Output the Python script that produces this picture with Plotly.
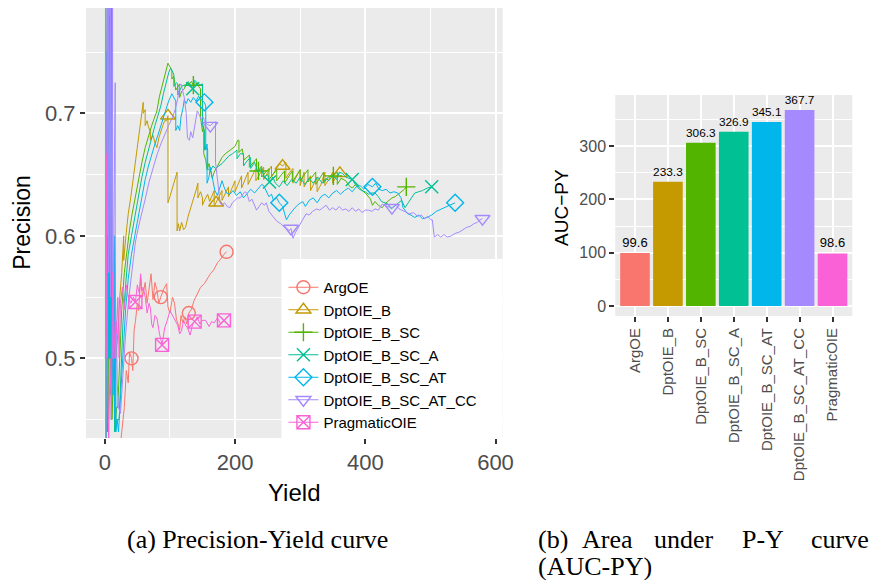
import plotly.graph_objects as go

# ---------------- data: Precision-Yield curves ----------------
argoe_x = [1, 2, 3, 5, 7, 9, 12, 15, 18, 22, 26, 30, 33, 36, 38, 41, 43, 45, 47, 50, 52, 55, 58, 62, 65, 68, 71, 74, 77, 80, 83, 86, 90, 95, 97, 100, 104, 107, 110, 112, 115, 117, 120, 123, 126, 129, 133, 137, 142, 147, 153, 158, 162, 167, 173, 178, 183, 187]
argoe_y = [0.0, 0.5, 0.333, 0.4, 0.35, 0.4, 0.41, 0.42, 0.40, 0.42, 0.44, 0.46, 0.49, 0.48, 0.505, 0.50, 0.49, 0.523, 0.53, 0.545, 0.539, 0.566, 0.55, 0.562, 0.545, 0.557, 0.569, 0.548, 0.562, 0.556, 0.545, 0.55, 0.556, 0.561, 0.542, 0.537, 0.55, 0.545, 0.532, 0.529, 0.523, 0.535, 0.529, 0.534, 0.528, 0.537, 0.540, 0.547, 0.553, 0.558, 0.561, 0.566, 0.569, 0.572, 0.578, 0.581, 0.585, 0.587]
argoe_marks = [41, 86, 129, 187]

b_x = [1, 1, 2, 2, 3, 4, 4, 6, 7, 7, 9, 10, 10, 12, 14, 14, 17, 20, 23, 26, 29, 29, 33, 36, 40, 44, 48, 52, 56, 59, 59, 62, 62, 65, 67, 70, 70, 74, 77, 80, 83, 86, 89, 92, 95, 97, 97, 100, 104, 108, 111, 111, 113, 115, 118, 121, 124, 128, 132, 136, 140, 143, 143, 147, 150, 150, 154, 158, 161, 165, 168, 168, 171, 176, 180, 180, 185, 190, 190, 195, 200, 200, 205, 210, 210, 215, 220, 220, 226, 232, 232, 238, 244, 244, 250, 256, 256, 262, 268, 273, 278, 278, 284, 289, 289, 295, 300, 300, 306, 306, 312, 316, 316, 322, 326, 326, 332, 338, 338, 344, 350, 350, 355, 361]
b_y = [1.0, 0.5, 0.667, 0.5, 0.6, 0.667, 0.5, 0.6, 0.64, 0.54, 0.6, 0.625, 0.5, 0.545, 0.56, 0.47, 0.5, 0.52, 0.55, 0.57, 0.6, 0.58, 0.603, 0.618, 0.632, 0.648, 0.664, 0.68, 0.698, 0.709, 0.7, 0.703, 0.69, 0.694, 0.689, 0.685, 0.678, 0.682, 0.676, 0.672, 0.68, 0.686, 0.69, 0.694, 0.694, 0.698, 0.627, 0.632, 0.64, 0.648, 0.652, 0.604, 0.61, 0.604, 0.611, 0.605, 0.607, 0.616, 0.624, 0.63, 0.637, 0.643, 0.631, 0.636, 0.631, 0.625, 0.63, 0.634, 0.628, 0.634, 0.637, 0.624, 0.627, 0.633, 0.637, 0.629, 0.635, 0.64, 0.632, 0.638, 0.645, 0.636, 0.642, 0.649, 0.639, 0.646, 0.652, 0.642, 0.649, 0.655, 0.645, 0.651, 0.656, 0.646, 0.652, 0.657, 0.648, 0.653, 0.659, 0.657, 0.66, 0.647, 0.652, 0.655, 0.643, 0.649, 0.654, 0.641, 0.652, 0.64, 0.646, 0.649, 0.637, 0.643, 0.648, 0.636, 0.642, 0.652, 0.641, 0.646, 0.652, 0.643, 0.648, 0.651]
b_marks = [97, 171, 273, 361]

sc_x = [1, 1, 2, 3, 3, 4, 5, 5, 6, 7, 7, 8, 9, 9, 10, 11, 11, 14, 16, 16, 18, 20, 23, 26, 30, 34, 38, 42, 47, 52, 57, 62, 67, 72, 76, 80, 84, 88, 92, 97, 100, 103, 103, 106, 109, 112, 115, 115, 118, 122, 126, 130, 133, 136, 140, 144, 147, 147, 150, 152, 152, 155, 157, 160, 163, 165, 168, 172, 176, 180, 185, 190, 195, 200, 204, 206, 206, 211, 214, 218, 222, 222, 228, 233, 233, 236, 241, 241, 247, 252, 252, 258, 264, 264, 270, 276, 276, 282, 288, 288, 294, 300, 300, 306, 312, 312, 318, 324, 324, 330, 336, 336, 343, 351, 357, 357, 363, 370, 375, 380, 385, 390, 395, 400, 404, 408, 411, 415, 420, 426, 430, 436, 441, 446, 451, 456, 460, 463]
sc_y = [1.0, 0.0, 0.5, 0.75, 0.5, 0.8, 0.83, 0.45, 0.6, 0.7, 0.5, 0.6, 0.64, 0.47, 0.55, 0.58, 0.45, 0.5, 0.53, 0.44, 0.46, 0.46, 0.5, 0.54, 0.57, 0.59, 0.605, 0.618, 0.633, 0.648, 0.66, 0.672, 0.682, 0.69, 0.696, 0.702, 0.714, 0.722, 0.73, 0.741, 0.738, 0.735, 0.728, 0.73, 0.719, 0.722, 0.724, 0.713, 0.718, 0.72, 0.725, 0.724, 0.726, 0.723, 0.725, 0.722, 0.72, 0.697, 0.685, 0.69, 0.667, 0.662, 0.654, 0.659, 0.652, 0.647, 0.652, 0.656, 0.66, 0.664, 0.667, 0.669, 0.671, 0.673, 0.678, 0.678, 0.668, 0.671, 0.662, 0.664, 0.666, 0.656, 0.66, 0.663, 0.653, 0.653, 0.657, 0.648, 0.652, 0.655, 0.646, 0.65, 0.654, 0.645, 0.649, 0.653, 0.643, 0.648, 0.653, 0.644, 0.649, 0.654, 0.645, 0.65, 0.654, 0.644, 0.648, 0.652, 0.642, 0.647, 0.652, 0.643, 0.648, 0.649, 0.652, 0.642, 0.647, 0.645, 0.641, 0.639, 0.642, 0.64, 0.637, 0.635, 0.632, 0.63, 0.625, 0.628, 0.625, 0.623, 0.626, 0.629, 0.631, 0.632, 0.634, 0.636, 0.638, 0.640]
sc_marks = [136, 236, 351, 463]

sca_x = [1, 1, 2, 2, 3, 4, 4, 6, 7, 7, 9, 10, 10, 13, 15, 15, 18, 22, 25, 28, 32, 36, 41, 47, 52, 57, 62, 67, 72, 77, 82, 86, 90, 94, 98, 101, 103, 106, 106, 110, 112, 112, 116, 120, 124, 128, 132, 135, 138, 142, 146, 150, 150, 153, 153, 156, 158, 158, 162, 166, 170, 175, 180, 185, 190, 196, 203, 203, 208, 213, 213, 218, 224, 224, 230, 235, 240, 245, 250, 253, 258, 262, 268, 274, 280, 287, 294, 300, 307, 314, 320, 327, 334, 340, 344, 350, 356, 360, 365, 370, 375, 380, 386, 391, 395, 400, 405, 410, 415, 420, 425, 430, 435, 440, 446, 451, 456, 461, 466, 471, 476, 482, 488, 495, 502]
sca_y = [0.0, 1.0, 0.5, 0.333, 0.6, 0.8, 0.44, 0.6, 0.78, 0.5, 0.6, 0.8, 0.45, 0.55, 0.6, 0.44, 0.45, 0.45, 0.49, 0.53, 0.56, 0.585, 0.6, 0.618, 0.634, 0.648, 0.66, 0.671, 0.68, 0.69, 0.698, 0.706, 0.716, 0.725, 0.733, 0.737, 0.735, 0.732, 0.722, 0.725, 0.724, 0.715, 0.72, 0.723, 0.722, 0.726, 0.723, 0.72, 0.727, 0.725, 0.723, 0.724, 0.69, 0.686, 0.67, 0.674, 0.67, 0.655, 0.653, 0.657, 0.655, 0.657, 0.659, 0.662, 0.665, 0.667, 0.67, 0.663, 0.667, 0.667, 0.657, 0.661, 0.664, 0.655, 0.66, 0.652, 0.655, 0.648, 0.65, 0.644, 0.648, 0.643, 0.64, 0.645, 0.641, 0.646, 0.643, 0.648, 0.642, 0.647, 0.643, 0.648, 0.643, 0.647, 0.645, 0.649, 0.646, 0.652, 0.651, 0.648, 0.647, 0.646, 0.641, 0.638, 0.637, 0.636, 0.634, 0.635, 0.635, 0.632, 0.628, 0.627, 0.626, 0.622, 0.625, 0.627, 0.629, 0.623, 0.627, 0.631, 0.635, 0.636, 0.637, 0.639, 0.640]
sca_marks = [135, 253, 380, 502]

scat_x = [1, 1, 2, 3, 3, 4, 5, 5, 7, 8, 8, 10, 11, 11, 13, 15, 15, 17, 17, 19, 21, 24, 28, 32, 36, 41, 46, 52, 57, 62, 67, 72, 77, 82, 86, 90, 94, 98, 103, 106, 109, 109, 112, 115, 117, 120, 122, 125, 128, 132, 136, 140, 144, 148, 153, 155, 155, 157, 157, 160, 162, 166, 169, 173, 177, 180, 183, 187, 192, 197, 202, 208, 213, 218, 224, 230, 236, 241, 244, 248, 252, 256, 259, 264, 268, 273, 276, 279, 283, 287, 292, 298, 304, 308, 314, 320, 326, 332, 338, 344, 350, 356, 362, 368, 374, 380, 386, 392, 398, 404, 411, 416, 421, 426, 432, 438, 444, 450, 455, 458, 462, 465, 470, 476, 482, 488, 495, 502, 509, 517, 523, 530, 538]
scat_y = [1.0, 0.5, 0.667, 0.75, 0.6, 0.8, 0.83, 0.5, 0.7, 0.8, 0.5, 0.6, 0.79, 0.47, 0.55, 0.45, 0.6, 0.53, 0.44, 0.45, 0.44, 0.47, 0.51, 0.54, 0.565, 0.585, 0.6, 0.618, 0.633, 0.646, 0.657, 0.667, 0.675, 0.683, 0.69, 0.696, 0.703, 0.71, 0.716, 0.713, 0.71, 0.686, 0.69, 0.686, 0.697, 0.704, 0.711, 0.708, 0.712, 0.709, 0.713, 0.71, 0.714, 0.711, 0.709, 0.706, 0.67, 0.675, 0.643, 0.648, 0.656, 0.645, 0.637, 0.633, 0.64, 0.645, 0.64, 0.635, 0.634, 0.637, 0.633, 0.636, 0.631, 0.634, 0.638, 0.635, 0.639, 0.642, 0.641, 0.636, 0.632, 0.634, 0.629, 0.631, 0.627, 0.624, 0.618, 0.613, 0.617, 0.62, 0.623, 0.626, 0.628, 0.624, 0.629, 0.631, 0.627, 0.632, 0.634, 0.631, 0.635, 0.637, 0.634, 0.637, 0.639, 0.636, 0.64, 0.641, 0.638, 0.642, 0.640, 0.643, 0.638, 0.637, 0.638, 0.635, 0.636, 0.635, 0.631, 0.623, 0.62, 0.618, 0.617, 0.615, 0.617, 0.614, 0.615, 0.617, 0.62, 0.622, 0.623, 0.625, 0.627]
scat_marks = [153, 268, 411, 538]

cc_x = [1, 1, 2, 3, 4, 4, 5, 6, 6, 8, 9, 9, 11, 12, 12, 14, 15, 16, 16, 18, 19, 21, 24, 28, 32, 37, 42, 47, 52, 57, 62, 68, 74, 80, 86, 92, 98, 104, 108, 112, 115, 117, 120, 122, 125, 127, 130, 132, 135, 138, 140, 142, 145, 148, 151, 153, 157, 162, 166, 170, 170, 173, 175, 177, 180, 184, 188, 192, 196, 200, 204, 208, 212, 215, 218, 222, 226, 230, 233, 237, 241, 245, 248, 252, 256, 259, 264, 270, 276, 280, 283, 286, 289, 293, 298, 303, 309, 314, 319, 325, 330, 335, 340, 345, 350, 355, 360, 365, 370, 375, 380, 385, 390, 395, 400, 405, 410, 415, 420, 426, 433, 441, 447, 452, 456, 462, 468, 474, 480, 486, 491, 496, 501, 503, 506, 511, 516, 521, 526, 532, 538, 544, 550, 556, 562, 567, 572, 576, 580]
cc_y = [1.0, 0.0, 0.5, 0.667, 0.8, 0.6, 0.83, 0.86, 0.57, 0.8, 0.82, 0.55, 0.7, 0.8, 0.5, 0.6, 0.65, 0.725, 0.5, 0.53, 0.48, 0.46, 0.455, 0.49, 0.52, 0.55, 0.575, 0.595, 0.608, 0.618, 0.63, 0.644, 0.656, 0.666, 0.675, 0.683, 0.69, 0.697, 0.703, 0.712, 0.723, 0.724, 0.716, 0.713, 0.7, 0.68, 0.678, 0.685, 0.68, 0.689, 0.695, 0.702, 0.699, 0.695, 0.697, 0.694, 0.691, 0.69, 0.692, 0.693, 0.66, 0.643, 0.637, 0.627, 0.625, 0.627, 0.624, 0.623, 0.627, 0.629, 0.631, 0.631, 0.634, 0.636, 0.635, 0.628, 0.63, 0.625, 0.621, 0.624, 0.627, 0.625, 0.627, 0.62, 0.617, 0.615, 0.612, 0.61, 0.607, 0.606, 0.604, 0.606, 0.598, 0.603, 0.608, 0.612, 0.618, 0.617, 0.62, 0.622, 0.621, 0.623, 0.625, 0.621, 0.623, 0.621, 0.624, 0.621, 0.622, 0.62, 0.623, 0.62, 0.622, 0.619, 0.621, 0.621, 0.62, 0.622, 0.621, 0.626, 0.624, 0.623, 0.625, 0.622, 0.621, 0.62, 0.618, 0.619, 0.616, 0.617, 0.614, 0.616, 0.613, 0.613, 0.599, 0.601, 0.599, 0.601, 0.599, 0.6, 0.602, 0.603, 0.605, 0.607, 0.608, 0.61, 0.611, 0.613, 0.614]
cc_marks = [162, 286, 441, 580]

prag_x = [1, 2, 3, 4, 6, 8, 10, 12, 14, 16, 18, 20, 22, 24, 27, 30, 33, 36, 40, 44, 47, 50, 53, 55, 57, 59, 62, 65, 68, 70, 72, 74, 77, 80, 84, 88, 92, 96, 100, 104, 108, 112, 115, 118, 121, 124, 127, 131, 135, 138, 142, 146, 150, 155, 160, 164, 168, 173, 178, 183]
prag_y = [1.0, 0.5, 0.667, 0.5, 0.43, 0.5, 0.45, 0.57, 0.5, 0.53, 0.52, 0.55, 0.5, 0.545, 0.558, 0.54, 0.56, 0.55, 0.545, 0.55, 0.546, 0.56, 0.553, 0.569, 0.555, 0.558, 0.55, 0.537, 0.545, 0.541, 0.528, 0.525, 0.535, 0.533, 0.52, 0.511, 0.525, 0.531, 0.539, 0.535, 0.531, 0.527, 0.52, 0.523, 0.531, 0.527, 0.525, 0.519, 0.528, 0.53, 0.534, 0.528, 0.531, 0.531, 0.526, 0.53, 0.529, 0.533, 0.528, 0.531]
prag_marks = [47, 88, 138, 183]

# ---------------- data: AUC-PY bars ----------------
methods = ["ArgOE", "DptOIE_B", "DptOIE_B_SC", "DptOIE_B_SC_A", "DptOIE_B_SC_AT", "DptOIE_B_SC_AT_CC", "PragmaticOIE"]
auc_py = [99.6, 233.3, 306.3, 326.9, 345.1, 367.7, 98.6]

colors = ["#F8766D", "#C49A00", "#53B400", "#00C094", "#00B6EB", "#A58AFF", "#FB61D7"]
symbols = ["circle-open", "triangle-up-open", "cross-thin-open", "x-thin-open",
           "diamond-open", "triangle-down-open", "square-x-open"]

series = [
    (argoe_x, argoe_y, argoe_marks),
    (b_x, b_y, b_marks),
    (sc_x, sc_y, sc_marks),
    (sca_x, sca_y, sca_marks),
    (scat_x, scat_y, scat_marks),
    (cc_x, cc_y, cc_marks),
    (prag_x, prag_y, prag_marks),
]

W, H = 884, 580
def px(x):
    return x / W
def py(y):
    return 1 - y / H

FONT = "Liberation Sans"
SERIF = "Liberation Serif"
fig = go.Figure()

for (xs, ys, marks), col, sym, name in zip(series, colors, symbols, methods):
    fig.add_trace(go.Scatter(x=xs, y=ys, mode="lines", line=dict(color=col, width=1),
                             showlegend=False, hoverinfo="skip", xaxis="x", yaxis="y"))
    mys = [ys[xs.index(m)] for m in marks]
    fig.add_trace(go.Scatter(x=marks, y=mys, mode="markers",
                             marker=dict(symbol=sym, size=13, color=col,
                                         line=dict(color=col, width=1.4)),
                             showlegend=False, xaxis="x", yaxis="y"))
    fig.add_trace(go.Scatter(x=[None], y=[None], mode="lines+markers", name=name,
                             line=dict(color=col, width=1),
                             marker=dict(symbol=sym, size=13, color=col,
                                         line=dict(color=col, width=1.4)),
                             xaxis="x", yaxis="y"))

fig.add_trace(go.Bar(x=methods, y=auc_py, marker=dict(color=colors, line=dict(width=0)),
                     width=0.9, text=[f"{v:.1f}" for v in auc_py], textposition="outside",
                     textfont=dict(family=FONT, size=13, color="black"), cliponaxis=False,
                     showlegend=False, xaxis="x2", yaxis="y2"))

grid_major = dict(showgrid=True, gridcolor="white", gridwidth=1.6, zeroline=False,
                  ticks="outside", ticklen=5, tickwidth=1.6, tickcolor="#333333",
                  showline=False)

fig.update_layout(
    width=W, height=H, margin=dict(l=0, r=0, t=0, b=0),
    paper_bgcolor="white", plot_bgcolor="#EBEBEB",
    font=dict(family=FONT, color="black"),
    xaxis=dict(domain=[px(87), px(509)], range=[-29, 611], tickvals=[0, 200, 400, 600],
               tickfont=dict(size=22, color="#4D4D4D"),
               minor=dict(tickvals=[100, 300, 500], showgrid=True, gridcolor="white", gridwidth=0.8, ticks=""),
               anchor="y", **grid_major),
    yaxis=dict(domain=[py(438), py(8)], range=[0.435, 0.786], tickvals=[0.5, 0.6, 0.7],
               tickfont=dict(size=22, color="#4D4D4D"),
               minor=dict(tickvals=[0.45, 0.55, 0.65, 0.75], showgrid=True, gridcolor="white", gridwidth=0.8, ticks=""),
               anchor="x", **grid_major),
    xaxis2=dict(domain=[px(623), px(863)], range=[-0.6, 6.6], type="category",
                tickangle=-90, tickfont=dict(size=15, color="#4D4D4D"),
                anchor="y2", **grid_major),
    yaxis2=dict(domain=[py(316), py(95)], range=[-18.8, 396], tickvals=[0, 100, 200, 300],
                tickfont=dict(size=16, color="#4D4D4D"),
                minor=dict(tickvals=[50, 150, 250, 350], showgrid=True, gridcolor="white", gridwidth=0.8, ticks=""),
                anchor="x2", **grid_major),
    legend=dict(x=px(287), y=py(271), xanchor="left", yanchor="top",
                bgcolor="rgba(0,0,0,0)", font=dict(size=15, family=FONT, color="black"),
                tracegroupgap=0, itemwidth=30),
    shapes=[dict(type="rect", xref="paper", yref="paper", x0=px(285), x1=px(509),
                 y0=py(438), y1=py(259), fillcolor="white", line=dict(width=0), layer="above")],
    showlegend=True,
)

ann = [
    dict(text="Precision", x=px(22), y=py(222), textangle=-90, font=dict(size=23)),
    dict(text="Yield", x=px(298), y=py(492), font=dict(size=24)),
    dict(text="AUC\u2212PY", x=px(568), y=py(207), textangle=-90, font=dict(size=19)),
    dict(text="(a) Precision-Yield curve", x=px(261), y=py(539),
         font=dict(size=26, family=SERIF)),
    dict(text="(b)", x=px(543), y=py(539), xanchor="left", font=dict(size=26, family=SERIF)),
    dict(text="Area", x=px(615), y=py(539), font=dict(size=26, family=SERIF)),
    dict(text="under", x=px(693), y=py(539), font=dict(size=26, family=SERIF)),
    dict(text="P-Y", x=px(773), y=py(539), font=dict(size=26, family=SERIF)),
    dict(text="curve", x=px(882), y=py(539), xanchor="right", font=dict(size=26, family=SERIF)),
    dict(text="(AUC-PY)", x=px(543), y=py(566), xanchor="left", font=dict(size=26, family=SERIF)),
]
for a in ann:
    a.setdefault("xanchor", "center")
    a.update(xref="paper", yref="paper", showarrow=False, yanchor="middle")
    a["font"].setdefault("family", FONT)
    a["font"].setdefault("color", "black")
fig.update_layout(annotations=ann)

fig.write_html("out.html")
